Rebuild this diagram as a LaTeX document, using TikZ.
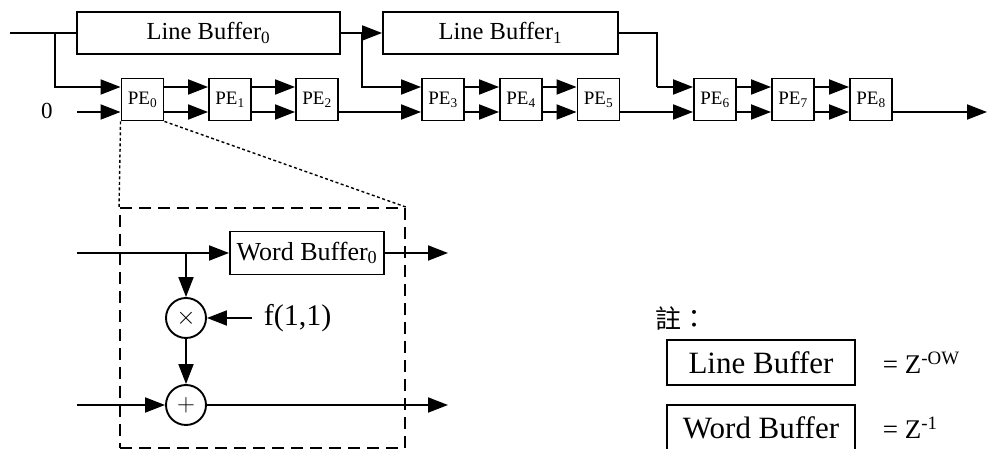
\documentclass[tikz,border=0pt]{standalone}
\usepackage{fontspec}
\setmainfont{Liberation Serif}
\newfontfamily\cjk{Noto Sans CJK TC}
\usetikzlibrary{positioning,arrows.meta}

\tikzset{
  flow/.style={-{Triangle[length=20pt,width=15pt]}},
  pebox/.style={draw, minimum width=42pt, minimum height=42pt, inner sep=0pt, font=\fontsize{19}{19}\selectfont},
  bufbox/.style={draw, minimum height=42pt, inner sep=0pt, font=\fontsize{24.5}{24.5}\selectfont},
  keybox/.style={draw, minimum width=188pt, minimum height=45pt, inner sep=0pt, font=\fontsize{31}{31}\selectfont},
  opcirc/.style={draw, circle, minimum size=40pt, inner sep=0pt, font=\fontsize{28}{28}\selectfont},
  zoomline/.style={line width=1.4pt, dash pattern=on 3pt off 2.5pt},
}

\begin{document}
\begin{tikzpicture}[x=1pt, y=1pt, line width=1.9pt]
            \useasboundingbox (0,0) rectangle (989,449);

            % Line buffers
            \node[bufbox, minimum width=263pt] (lb0) at (208.5,416) {Line Buffer\textsubscript{0}};
            \node[bufbox, minimum width=235pt] (lb1) at (500.5,416) {Line Buffer\textsubscript{1}};

            % PE chain
            \foreach \n/\x in {0/142.5, 1/230, 2/317, 3/443, 4/521, 5/598.5, 6/715, 7/793, 8/871}
                \node[pebox] (pe\n) at (\x,349.5) {PE\textsubscript{\n}};

            % Inputs
            \coordinate (in) at (10,416);
            \coordinate (j0) at (55,416);
            \coordinate (j1) at (362,416);
            \coordinate (j2) at (657,362);
            \coordinate (z0) at (77,337);
            \coordinate (out) at (987,337);
            \node[font=\fontsize{23}{23}\selectfont, inner sep=0pt] (zero) at (47,338) {0};

            % Arrows
            \draw (in) -- (lb0.west);
            \draw[flow] (j0) |- ([yshift=12.5pt]pe0.west);
            \draw[flow] (z0) -- ([yshift=-12.5pt]pe0.west);
            \draw[flow] (lb0.east) -- (lb1.west);
            \draw[flow] (j1) |- ([yshift=12.5pt]pe3.west);
            \draw (lb1.east) -| (j2);
            \draw[flow] (j2) -- ([yshift=12.5pt]pe6.west);
            \foreach \a/\b in {0/1, 1/2, 3/4, 4/5, 6/7, 7/8} {
                \draw[flow] ([yshift=12.5pt]pe\a.east) -- ([yshift=12.5pt]pe\b.west);
                \draw[flow] ([yshift=-12.5pt]pe\a.east) -- ([yshift=-12.5pt]pe\b.west);
            }
            \foreach \a/\b in {2/3, 5/6}
                \draw[flow] ([yshift=-12.5pt]pe\a.east) -- ([yshift=-12.5pt]pe\b.west);
            \draw[flow] ([yshift=-12.5pt]pe8.east) -- (out);

            % Zoomed PE
            \node[draw, dash pattern=on 12pt off 7pt, minimum width=285pt, minimum height=240pt, inner sep=0pt] (zoom) at (262.5,121) {};
            \draw[zoomline] (pe0.south west) -- (zoom.north west);
            \draw[zoomline] (pe0.south east) -- (zoom.north east);

            \node[bufbox, minimum width=154pt, minimum height=43pt, font=\fontsize{26}{26}\selectfont] (wb) at (307,196) {Word Buffer\textsubscript{0}};
            \node[opcirc] (mul) at (186,131) {$\times$};
            \node[opcirc] (add) at (186,44) {$+$};
            \node[anchor=west, inner sep=0pt, font=\fontsize{30}{30}\selectfont] (coef) at (263,131) {f(1,1)};
            \coordinate (uin) at (77,196);
            \coordinate (tap) at (186,196);
            \coordinate (uout) at (448,196);
            \coordinate (lin) at (77,44);
            \coordinate (lout) at (448,44);

            \draw[flow] (uin) -- (wb.west);
            \draw[flow] (wb.east) -- (uout);
            \draw[flow] (tap) -- (mul.north);
            \draw[flow] ([xshift=-11pt]coef.west) -- (mul.east);
            \draw[flow] (mul.south) -- (add.north);
            \draw[flow] (lin) -- (add.west);
            \draw[flow] (add.east) -- (lout);

            % Legend
            \node[anchor=west, inner sep=0pt, font=\fontsize{26}{26}\selectfont] (note) at (655,131) {\cjk 註：};
            \node[keybox] (lbkey) at (761,86.5) {Line Buffer};
            \node[keybox] (wbkey) at (761,21.5) {Word Buffer};
            \node[anchor=west, inner sep=0pt, font=\fontsize{27}{27}\selectfont] (lbeq) at (882,86.5) {= Z\textsuperscript{-OW}};
            \node[anchor=west, inner sep=0pt, font=\fontsize{27}{27}\selectfont] (wbeq) at (882,21.5) {= Z\textsuperscript{-1}};
        \end{tikzpicture}
\end{document}
